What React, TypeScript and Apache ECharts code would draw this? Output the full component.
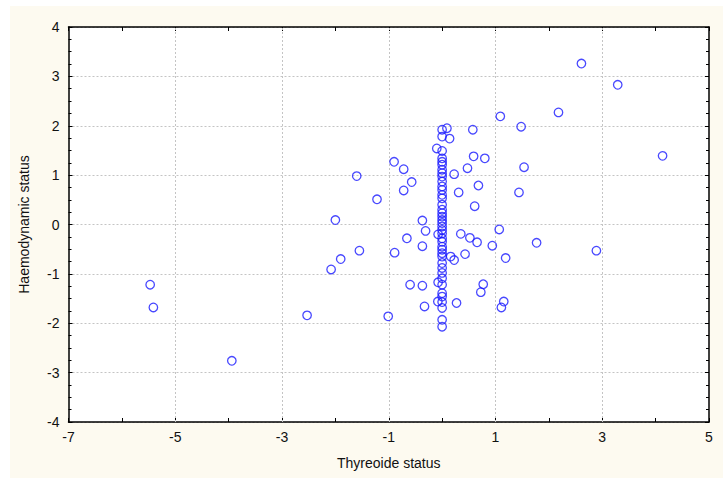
import React, { useEffect, useRef } from "react";
import * as echarts from "echarts";

// Scattered observations (Thyreoide status, Haemodynamic status)
const thyroidX = [
  -5.47, -5.41, -3.94, -2.53, -2.08, -1.9, -2.0, -1.6, -1.55, -1.22, -1.01, -0.9, -0.72, -0.57,
  -0.72, -0.89, -0.66, -0.6, -0.37, -0.31, -0.37, -0.37, -0.33, -0.1, -0.075, -0.075, -0.08,
  0.09, 0.14, 0.575, 0.59, 0.475, 0.8, 0.225, 0.68, 0.31, 0.61, 0.35, 0.52, 0.655, 0.16, 0.225,
  0.43, 0.94, 1.07, 1.19, 1.77, 2.89, 0.77, 0.725, 1.155, 1.11, 0.27, 1.09, 2.18, 1.48, 1.535,
  1.44, 2.61, 3.29, 4.13,
];
const haemoY = [
  -1.22, -1.68, -2.76, -1.84, -0.91, -0.7, 0.09, 0.98, -0.53, 0.51, -1.86, 1.27, 1.12, 0.86,
  0.69, -0.57, -0.28, -1.22, 0.08, -0.13, -0.44, -1.24, -1.66, 1.54, -0.2, -1.17, -1.56,
  1.95, 1.74, 1.92, 1.38, 1.14, 1.34, 1.02, 0.79, 0.65, 0.37, -0.19, -0.27, -0.36, -0.65, -0.72,
  -0.6, -0.43, -0.1, -0.68, -0.37, -0.53, -1.21, -1.37, -1.56, -1.68, -1.59, 2.19, 2.27, 1.98, 1.16,
  0.65, 3.26, 2.83, 1.39,
];
// Observations stacked at Thyreoide status = 0
const columnX = 0;
const columnY = [
  1.92, 1.78, 1.49, 1.34, 1.27, 1.21, 1.11, 1.04, 0.97, 0.87, 0.77, 0.7, 0.6, 0.53, 0.4, 0.3,
  0.23, 0.16, 0.09, 0.03, -0.04, -0.11, -0.18, -0.28, -0.35, -0.45, -0.51, -0.58, -0.65, -0.78,
  -0.88, -0.98, -1.09, -1.22, -1.39, -1.46, -1.57, -1.69, -1.93, -2.07,
];

const xTickLabels = [-7, -5, -3, -1, 1, 3, 5];
const xGridLines = [-5, -3, -1, 1, 3];

const FONT = "'Liberation Sans', Arial, sans-serif";

export default function App() {
  const ref = useRef<HTMLDivElement>(null);

  useEffect(() => {
    document.body.style.margin = "0";
    if (!ref.current) return;
    const chart = echarts.init(ref.current, undefined, { renderer: "svg" });

    const points: number[][] = [];
    thyroidX.forEach((x, i) => points.push([x, haemoY[i]]));
    columnY.forEach((y) => points.push([columnX, y]));

    const axisLine = { show: true, onZero: false, lineStyle: { color: "#000", width: 1.5 } };
    const axisTick = { show: true, inside: true, length: 4, lineStyle: { color: "#000", width: 1 } };
    const gridStyle = { color: "#c4c4c4", width: 1, type: [2, 2] as number[] };

    chart.setOption({
      animation: false,
      backgroundColor: "transparent",
      grid: {
        left: 68.5,
        top: 27,
        right: 14,
        bottom: 56,
        show: true,
        backgroundColor: "#ffffff",
        borderWidth: 0,
      },
      xAxis: [
        {
          type: "value",
          min: -7,
          max: 5,
          interval: 1,
          position: "bottom",
          axisLine,
          axisTick,
          axisLabel: {
            fontSize: 14,
            color: "#111",
            fontFamily: FONT,
            margin: 8,
            formatter: (v: number) => (xTickLabels.includes(v) ? String(v) : ""),
          },
          splitLine: { show: false },
          name: "Thyreoide status",
          nameLocation: "middle",
          nameGap: 34,
          nameTextStyle: { fontSize: 14, color: "#111", fontFamily: FONT },
        },
        {
          type: "value",
          min: -7,
          max: 5,
          interval: 1,
          position: "top",
          axisLine,
          axisTick,
          axisLabel: { show: false },
          splitLine: { show: false },
        },
      ],
      yAxis: [
        {
          type: "value",
          min: -4,
          max: 4,
          interval: 1,
          position: "left",
          axisLine,
          axisTick,
          minorTick: { show: true, splitNumber: 4, length: 3, lineStyle: { color: "#000", width: 1 } },
          axisLabel: { fontSize: 14, color: "#111", fontFamily: FONT, margin: 9 },
          splitLine: { show: true, lineStyle: gridStyle },
          name: "Haemodynamic status",
          nameLocation: "middle",
          nameGap: 38,
          nameTextStyle: { fontSize: 14, color: "#111", fontFamily: FONT },
        },
        {
          type: "value",
          min: -4,
          max: 4,
          interval: 1,
          position: "right",
          axisLine,
          axisTick,
          minorTick: { show: true, splitNumber: 4, length: 3, lineStyle: { color: "#000", width: 1 } },
          axisLabel: { show: false },
          splitLine: { show: false },
        },
      ],
      series: [
        {
          type: "line",
          data: [],
          xAxisIndex: 0,
          yAxisIndex: 0,
          z: 1,
          markLine: {
            silent: true,
            symbol: ["none", "none"],
            label: { show: false },
            lineStyle: gridStyle,
            data: xGridLines.map((x) => ({ xAxis: x })),
          },
        },
        {
          type: "scatter",
          data: points,
          xAxisIndex: 0,
          yAxisIndex: 0,
          symbol: "circle",
          symbolSize: 8.5,
          z: 5,
          itemStyle: { color: "rgba(0,0,0,0)", borderColor: "#1a1aff", borderWidth: 1.3 },
        },
      ],
    });

    return () => chart.dispose();
  }, []);

  return (
    <div style={{ position: "relative", width: 723, height: 478, background: "#ffffff" }}>
      <div
        style={{
          position: "absolute",
          left: 10,
          top: 6,
          right: 0,
          bottom: 0,
          background: "#fdfaf0",
        }}
      />
      <div ref={ref} style={{ position: "absolute", left: 0, top: 0, width: 723, height: 478 }} />
    </div>
  );
}
